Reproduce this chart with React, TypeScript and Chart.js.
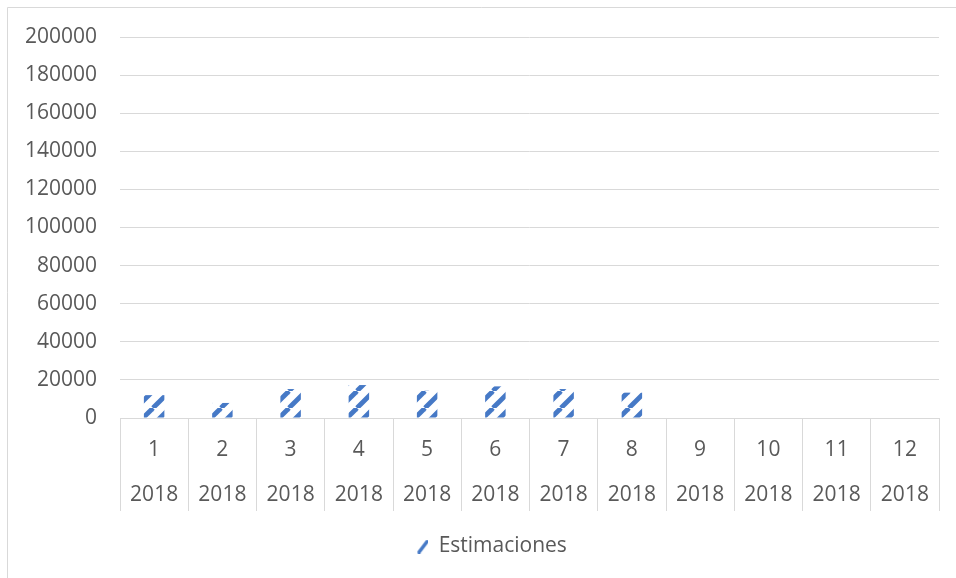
import React, { useEffect, useRef } from "react";
import { Chart, registerables } from "chart.js";

Chart.register(...registerables);

const months = ["1", "2", "3", "4", "5", "6", "7", "8", "9", "10", "11", "12"];
const years = ["2018", "2018", "2018", "2018", "2018", "2018", "2018", "2018", "2018", "2018", "2018", "2018"];
const estimaciones = [12000, 7900, 15200, 17300, 14300, 16600, 15200, 13300, null, null, null, null];
const seriesName = "Estimaciones";
const yMin = 0;
const yMax = 200000;
const yStep = 20000;

const BLUE = "#4679c6";
const TEXT = "#595959";
const GRID = "#d9d9d9";
const FONT = "'Open Sans', sans-serif";

function makePattern(ctx: CanvasRenderingContext2D): CanvasPattern | string {
  const size = 17;
  const c = document.createElement("canvas");
  c.width = size;
  c.height = size;
  const g = c.getContext("2d");
  if (!g) return BLUE;
  g.strokeStyle = BLUE;
  g.lineWidth = 4.8;
  g.lineCap = "butt";
  for (const k of [-size, 0, size]) {
    g.beginPath();
    g.moveTo(k, size);
    g.lineTo(k + size, 0);
    g.stroke();
  }
  return ctx.createPattern(c, "repeat") || BLUE;
}

function makeLegendMarker(): HTMLCanvasElement {
  const c = document.createElement("canvas");
  c.width = 48;
  c.height = 14;
  const g = c.getContext("2d");
  if (g) {
    g.strokeStyle = BLUE;
    g.lineWidth = 3.5;
    g.lineCap = "round";
    g.beginPath();
    g.moveTo(39, 12.5);
    g.lineTo(47, 2);
    g.stroke();
  }
  return c;
}

const borderPlugin = {
  id: "outerBorder",
  beforeDraw(chart: any) {
    const ctx = chart.ctx;
    ctx.save();
    ctx.fillStyle = "#ffffff";
    ctx.fillRect(0, 0, chart.width, chart.height);
    ctx.strokeStyle = GRID;
    ctx.lineWidth = 1;
    ctx.beginPath();
    ctx.moveTo(7.5, chart.height);
    ctx.lineTo(7.5, 7.5);
    ctx.lineTo(chart.width, 7.5);
    ctx.stroke();
    ctx.restore();
  },
};

export default function App() {
  const ref = useRef<HTMLCanvasElement | null>(null);

  useEffect(() => {
    const canvas = ref.current;
    if (!canvas) return;
    const ctx = canvas.getContext("2d");
    if (!ctx) return;
    const pattern = makePattern(ctx);
    const marker = makeLegendMarker();
    const labels = months.map((m, i) => [m, years[i]]);

    const chart = new Chart(canvas, {
      type: "bar",
      data: {
        labels,
        datasets: [
          {
            label: seriesName,
            data: estimaciones,
            backgroundColor: pattern as any,
            borderWidth: 0,
            categoryPercentage: 1,
            barPercentage: 0.3,
          },
        ],
      },
      plugins: [borderPlugin],
      options: {
        animation: false,
        responsive: false,
        maintainAspectRatio: false,
        devicePixelRatio: 1,
        layout: { padding: { left: 8, right: 17, top: 37, bottom: 11 } },
        plugins: {
          tooltip: { enabled: false },
          legend: {
            position: "bottom",
            labels: {
              color: TEXT,
              font: { family: FONT, size: 21 },
              usePointStyle: true,
              pointStyleWidth: 48,
              padding: 10,
              generateLabels: () => [
                {
                  text: seriesName,
                  fillStyle: BLUE,
                  strokeStyle: BLUE,
                  lineWidth: 0,
                  pointStyle: marker as any,
                  hidden: false,
                  datasetIndex: 0,
                  fontColor: TEXT,
                } as any,
              ],
            },
          },
        },
        scales: {
          x: {
            type: "category",
            offset: true,
            grid: {
              display: true,
              offset: true,
              drawOnChartArea: false,
              drawTicks: true,
              tickLength: 93,
              color: GRID,
              lineWidth: 1,
            },
            border: { display: true, color: GRID, width: 1 },
            ticks: {
              color: TEXT,
              font: { family: FONT, size: 21, lineHeight: "45px" } as any,
              padding: -83.5,
              maxRotation: 0,
              minRotation: 0,
              autoSkip: false,
            },
            afterFit(scale: any) {
              scale.height = 108;
            },
          },
          y: {
            min: yMin,
            max: yMax,
            grid: { color: GRID, drawTicks: false, lineWidth: 1 },
            border: { display: false },
            ticks: {
              stepSize: yStep,
              color: TEXT,
              font: { family: FONT, size: 21 },
              padding: 23,
              callback: (v: any) => String(v),
            },
            afterFit(scale: any) {
              scale.width = 112;
            },
          },
        },
      },
    });
    return () => chart.destroy();
  }, []);

  return (
    <div style={{ position: "fixed", left: 0, top: 0, width: 956, height: 578 }}>
      <canvas ref={ref} width={956} height={578} style={{ display: "block", width: 956, height: 578 }} />
    </div>
  );
}
